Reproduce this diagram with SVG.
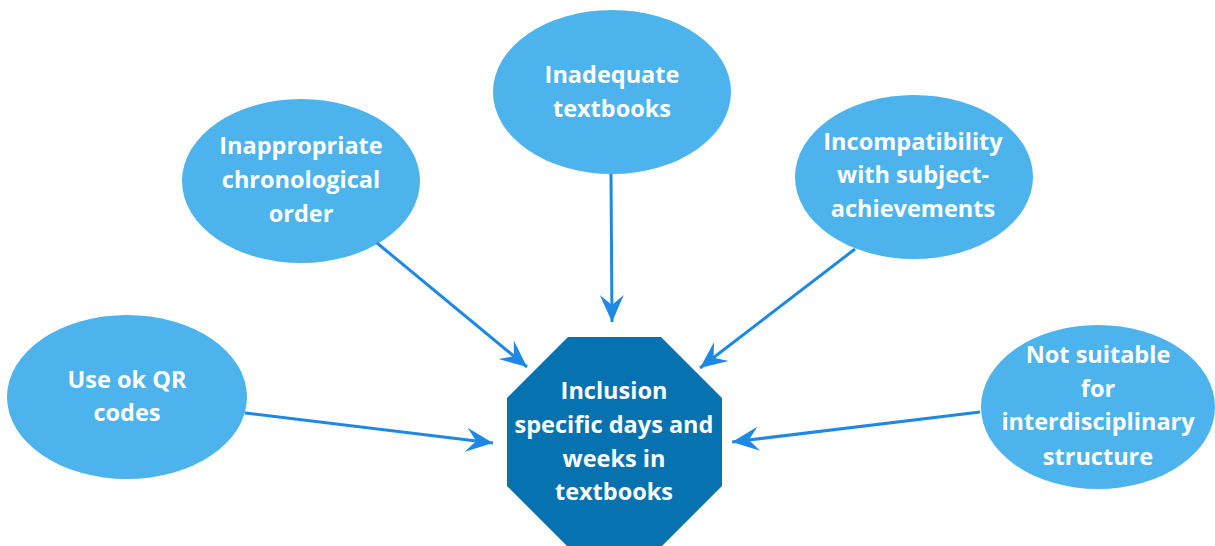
<svg xmlns="http://www.w3.org/2000/svg" width="1215" height="546" viewBox="0 0 1215 546">
  <style>
    .cause { fill: #4DB3EC; }
    .core { fill: #0672AF; }
    .label { font-family: "Open Sans", Lato, "Liberation Sans", sans-serif; font-weight: bold; font-size: 23.5px; fill: #FFFFFF; text-anchor: middle; }
    .link { stroke: #1E88E5; stroke-width: 3; fill: none; marker-end: url(#head); }
  </style>
  <defs>
    <marker id="head" markerUnits="userSpaceOnUse" markerWidth="30" markerHeight="30" viewBox="-28 -14 30 28" refX="0" refY="0" orient="auto">
      <path d="M0,0 L-27,-12 L-17,0 L-27,12 Z" fill="#1E88E5"/>
    </marker>
  </defs>
  <rect width="1215" height="546" fill="#FFFFFF"/>

  <g id="node-qr">
    <ellipse class="cause" cx="127" cy="397" rx="120" ry="82"/>
    <text class="label" x="127" y="388">Use ok QR</text>
    <text class="label" x="127" y="421">codes</text>
  </g>

  <g id="node-chronology">
    <ellipse class="cause" cx="301" cy="181" rx="119" ry="82"/>
    <text class="label" x="301" y="154">Inappropriate</text>
    <text class="label" x="301" y="188">chronological</text>
    <text class="label" x="301" y="222">order</text>
  </g>

  <g id="node-textbooks">
    <ellipse class="cause" cx="612" cy="92" rx="119" ry="82"/>
    <text class="label" x="612" y="83">Inadequate</text>
    <text class="label" x="612" y="117">textbooks</text>
  </g>

  <g id="node-achievements">
    <ellipse class="cause" cx="914" cy="177" rx="119" ry="82"/>
    <text class="label" x="913" y="150">Incompatibility</text>
    <text class="label" x="913" y="183">with subject-</text>
    <text class="label" x="913" y="217">achievements</text>
  </g>

  <g id="node-interdisciplinary">
    <ellipse class="cause" cx="1098" cy="407" rx="117" ry="82"/>
    <text class="label" x="1098" y="363">Not suitable</text>
    <text class="label" x="1098" y="397">for</text>
    <text class="label" x="1098" y="430">interdisciplinary</text>
    <text class="label" x="1098" y="465">structure</text>
  </g>

  <g id="node-inclusion">
    <polygon class="core" points="568,337 661,337 722,398 722,486 661,547 568,547 507,486 507,398"/>
    <text class="label" x="614" y="399">Inclusion</text>
    <text class="label" x="614" y="433">specific days and</text>
    <text class="label" x="614" y="467">weeks in</text>
    <text class="label" x="614" y="500">textbooks</text>
  </g>

  <g id="connectors">
    <line class="link" x1="245" y1="413" x2="493" y2="443"/>
    <line class="link" x1="377" y1="243" x2="527" y2="367"/>
    <line class="link" x1="611" y1="174" x2="612" y2="322"/>
    <line class="link" x1="855" y1="249" x2="700" y2="368"/>
    <line class="link" x1="980" y1="412" x2="732" y2="442"/>
  </g>
</svg>
